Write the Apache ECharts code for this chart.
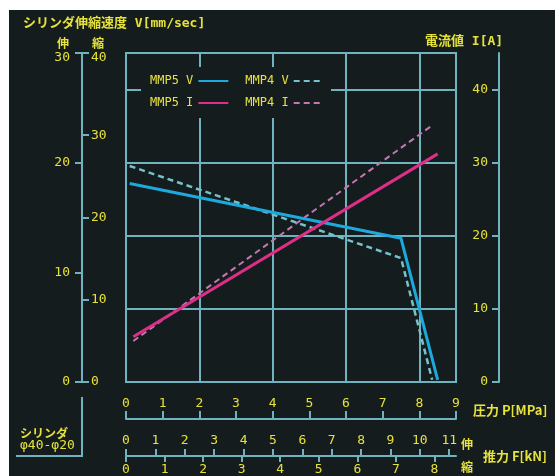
<!DOCTYPE html>
<html>
<head>
<meta charset="utf-8">
<script src="https://cdn.jsdelivr.net/npm/echarts@6/dist/echarts.min.js"></script>
<style>
  html, body { margin: 0; padding: 0; background: #ffffff; }
  #panel { position: absolute; left: 9px; top: 10px; right: 0; bottom: 0; background: #141c1e; }
  #chart { position: absolute; left: 0; top: 0; width: 555px; height: 476px; }
</style>
</head>
<body>
<div id="panel"></div>
<div id="chart"></div>
<script>
// Cylinder speed / current vs. supply pressure (cylinder φ40-φ20)
// Points are [pressure MPa, value]
const mmp5Speed   = [[0.1, 18.1], [7.5, 13.1], [8.5, 0.2]];   // V, mm/sec (extend scale)
const mmp4Speed   = [[0.1, 19.7], [7.5, 11.3], [8.35, 0.2]];
const mmp5Current = [[0.2, 6.2], [8.5, 31.2]];                 // I, A
const mmp4Current = [[0.2, 5.6], [8.35, 35.1]];

const seriesNames = ['MMP5 V', 'MMP4 V', 'MMP5 I', 'MMP4 I'];

// scale ticks
const pressureTicks  = [0, 1, 2, 3, 4, 5, 6, 7, 8, 9];
const forceExtTicks  = [0, 1, 2, 3, 4, 5, 6, 7, 8, 9, 10, 11];
const forceRetTicks  = [0, 1, 2, 3, 4, 5, 6, 7, 8];
const currentTicks   = [0, 10, 20, 30, 40];
const speedExtTicks  = [0, 10, 20, 30];
const speedRetTicks  = [0, 10, 20, 30, 40];

// thrust (kN) reached at the 9 MPa end of the pressure scale
const forceExtMax = 11.23;
const forceRetMax = 8.56;

const AX = '#6fb3be';
const YEL = '#e6e23c';
const BG = '#141c1e';
const FONT = "'DejaVu Sans Mono', 'Noto Sans CJK JP', monospace";
const CJK = "'Noto Sans CJK JP', 'DejaVu Sans Mono', sans-serif";

const txt = (size, extra) => Object.assign({ color: YEL, fontFamily: FONT, fontSize: size }, extra || {});
const axLine = (show) => ({ show: show, onZero: false, lineStyle: { color: AX, width: 2 } });
const ticks = (inside, length, values) => ({
  show: true, inside: inside, length: length, customValues: values, lineStyle: { color: AX, width: 2 }
});
// top label of a vertical scale sits just below its tick
const topLabel = (maxVal) => (v) => (v === maxVal ? '{top|' + v + '}' : String(v));
const topRich = { top: { color: YEL, fontFamily: FONT, fontSize: 13, padding: [10, 0, 0, 0] } };

function label(text, x, y, opts) {
  return {
    type: 'text', x: x, y: y, z: 10,
    style: Object.assign({ text: text, fill: YEL, font: '13px ' + FONT, verticalAlign: 'middle', align: 'left' }, opts || {})
  };
}

const chart = echarts.init(document.getElementById('chart'), null, { renderer: 'canvas' });

chart.setOption({
  backgroundColor: 'transparent',
  animation: false,
  grid: {
    left: 126, top: 53, width: 330, height: 329,
    show: true, borderColor: AX, borderWidth: 2, backgroundColor: 'transparent'
  },
  xAxis: [
    { // plot frame / vertical grid
      type: 'value', min: 0, max: 9, interval: 2, position: 'bottom',
      axisLine: axLine(true),
      axisTick: { show: false }, axisLabel: { show: false },
      splitLine: { show: true, lineStyle: { color: AX, width: 2 } }
    },
    { // pressure scale
      type: 'value', min: 0, max: 9, interval: 1, position: 'bottom', offset: 37,
      axisLine: axLine(true),
      axisTick: ticks(true, 8, pressureTicks),
      axisLabel: { show: true, inside: true, margin: 9, customValues: pressureTicks, ...txt(13) },
      splitLine: { show: false }
    },
    { // thrust, extend side
      type: 'value', min: 0, max: forceExtMax, position: 'bottom', offset: 74,
      axisLine: axLine(true),
      axisTick: ticks(true, 7, forceExtTicks),
      axisLabel: { show: true, inside: true, margin: 9, customValues: forceExtTicks, ...txt(13) },
      splitLine: { show: false }
    },
    { // thrust, retract side
      type: 'value', min: 0, max: forceRetMax, position: 'bottom', offset: 74,
      axisLine: axLine(false),
      axisTick: ticks(false, 6, forceRetTicks),
      axisLabel: { show: true, inside: false, margin: 7, customValues: forceRetTicks, ...txt(13) },
      splitLine: { show: false }
    }
  ],
  yAxis: [
    { // speed, extend
      type: 'value', min: 0, max: 30, interval: 10, position: 'left', offset: 44,
      axisLine: axLine(true),
      axisTick: ticks(false, 7, speedExtTicks),
      axisLabel: { show: true, margin: 12, customValues: speedExtTicks, formatter: topLabel(30), rich: topRich, ...txt(13) },
      splitLine: { show: false }
    },
    { // speed, retract
      type: 'value', min: 0, max: 40, interval: 10, position: 'left', offset: 44,
      axisLine: axLine(false),
      axisTick: ticks(true, 7, speedRetTicks),
      axisLabel: { show: true, inside: true, margin: 9, customValues: speedRetTicks, formatter: topLabel(40), rich: topRich, ...txt(13) },
      splitLine: { show: false }
    },
    { // current
      type: 'value', min: 0, max: 45, interval: 10, position: 'right', offset: 43,
      axisLine: axLine(true),
      axisTick: ticks(true, 7, currentTicks),
      axisLabel: { show: true, inside: true, margin: 11, customValues: currentTicks, ...txt(13) },
      splitLine: { show: true, lineStyle: { color: AX, width: 2 } }
    }
  ],
  legend: [
    {
      data: [seriesNames[0], seriesNames[1]], left: 150, top: 75, align: 'right',
      itemWidth: 30, itemHeight: 14, itemGap: 16, padding: 0,
      itemStyle: { opacity: 0, color: 'transparent', borderColor: 'transparent' },
      textStyle: txt(12), selectedMode: false
    },
    {
      data: [seriesNames[2], seriesNames[3]], left: 150, top: 97, align: 'right',
      itemWidth: 30, itemHeight: 14, itemGap: 16, padding: 0,
      itemStyle: { opacity: 0, color: 'transparent', borderColor: 'transparent' },
      textStyle: txt(12), selectedMode: false
    }
  ],
  graphic: [
    // clear panel behind the legend
    { type: 'rect', shape: { x: 141, y: 67, width: 190, height: 51 }, style: { fill: BG }, z: 1 },
    label('シリンダ伸縮速度 V[mm/sec]', 23, 24, { font: 'bold 13px ' + FONT }),
    label('伸', 63, 43, { font: 'bold 12px ' + CJK, align: 'center' }),
    label('縮', 98, 43, { font: 'bold 12px ' + CJK, align: 'center' }),
    label('電流値 I[A]', 425, 42, { font: 'bold 13px ' + FONT }),
    label('圧力 P[MPa]', 473, 410, { font: 'bold 13px ' + CJK }),
    label('伸', 467, 444, { font: 'bold 12px ' + CJK, align: 'center' }),
    label('縮', 467, 467, { font: 'bold 12px ' + CJK, align: 'center' }),
    label('推力 F[kN]', 483, 456, { font: 'bold 13px ' + CJK }),
    label('シリンダ', 20, 433, { font: 'bold 12px ' + CJK }),
    label('φ40-φ20', 20, 446, { font: '13px ' + FONT }),
    { type: 'polyline', shape: { points: [[82, 397], [82, 456], [16, 456]] }, style: { stroke: AX, lineWidth: 2, fill: null }, z: 10 }
  ],
  series: [
    {
      name: seriesNames[0], type: 'line', xAxisIndex: 0, yAxisIndex: 0, data: mmp5Speed,
      symbol: 'none', lineStyle: { color: '#1ea9dd', width: 3 }, itemStyle: { color: '#1ea9dd' }, z: 5
    },
    {
      name: seriesNames[1], type: 'line', xAxisIndex: 0, yAxisIndex: 0, data: mmp4Speed,
      symbol: 'none', lineStyle: { color: '#76c2cc', width: 2.5, type: [6, 4] }, itemStyle: { color: '#76c2cc' }, z: 4
    },
    {
      name: seriesNames[2], type: 'line', xAxisIndex: 0, yAxisIndex: 2, data: mmp5Current,
      symbol: 'none', lineStyle: { color: '#dc2f88', width: 3 }, itemStyle: { color: '#dc2f88' }, z: 5
    },
    {
      name: seriesNames[3], type: 'line', xAxisIndex: 0, yAxisIndex: 2, data: mmp4Current,
      symbol: 'none', lineStyle: { color: '#c478ae', width: 2, type: [6, 4] }, itemStyle: { color: '#c478ae' }, z: 4
    }
  ]
});
</script>
</body>
</html>
